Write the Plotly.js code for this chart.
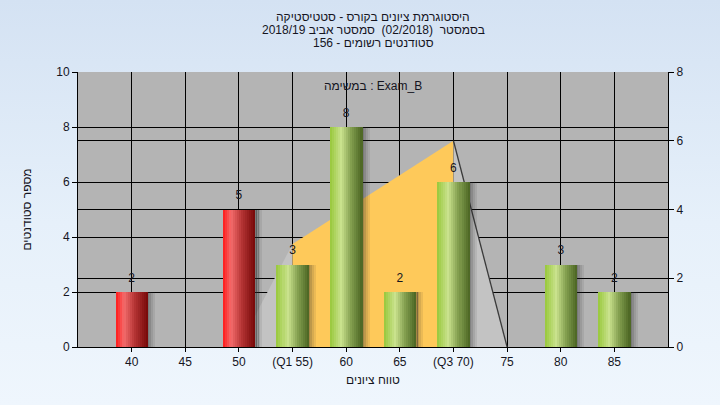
<!DOCTYPE html>
<html>
<head>
<meta charset="utf-8">
<script src="https://cdn.plot.ly/plotly-3.0.1.min.js"></script>
<style>
  html, body { margin: 0; padding: 0; }
  body { width: 720px; height: 405px; overflow: hidden;
         background: linear-gradient(to bottom, #d4e2f3 0%, #e6f0fa 55%, #eff6fd 100%); }
  #chart { width: 720px; height: 405px; }
</style>
</head>
<body>
<div id="chart"></div>
<script>
// ---- data ----
const scores = [40, 45, 50, 55, 60, 65, 70, 75, 80, 85];
const tickLabels = ['40', '45', '50', '(Q1 55)', '60', '65', '(Q3 70)', '75', '80', '85'];
const counts = [2, 0, 5, 3, 8, 2, 6, 0, 3, 2];
const curveX = [50, 55, 70, 75];
const curveY = [0, 3, 6, 0];
const q1 = 55;
const q3 = 70;
const titleLines = ['היסטוגרמת ציונים בקורס - סטטיסטיקה', 'בסמסטר  (02/2018)  סמסטר אביב 2018/19', 'סטודנטים רשומים - 156'];
const examNote = 'במשימה : Exam_B';
const xTitle = 'טווח ציונים';
const yTitle = 'מספר סטודנטים';

// ---- style helpers ----
const FONT = 'Liberation Sans, Arial, sans-serif';
const TXT = '#15151f';
const redStops = [[0, [255, 24, 24]], [0.25, [244, 108, 108]], [0.6, [178, 50, 50]], [1, [118, 8, 8]]];
const greenStops = [[0, [152, 200, 58]], [0.35, [202, 226, 142]], [0.65, [132, 160, 80]], [1, [74, 100, 34]]];
function interp(stops, t) {
  for (let i = 1; i < stops.length; i++) {
    if (t <= stops[i][0]) {
      const a = stops[i - 1], b = stops[i];
      const f = (t - a[0]) / (b[0] - a[0]);
      const c = a[1].map((v, k) => Math.round(v + (b[1][k] - v) * f));
      return 'rgb(' + c.join(',') + ')';
    }
  }
  const c = stops[stops.length - 1][1];
  return 'rgb(' + c.join(',') + ')';
}

const traces = [];
// distribution area (main subplot, right axis 0-8)
const segs = [[0, 2, '#c3c3c3', 0], [1, 3, '#fec95a', 0], [2, 4, '#c3c3c3', 1.3]];
segs.forEach(s => {
  traces.push({
    type: 'scatter', mode: 'lines', x: curveX.slice(s[0], s[1]), y: curveY.slice(s[0], s[1]),
    fill: 'tozeroy', fillcolor: s[2],
    line: { color: s[3] ? '#3a3a3a' : 'rgba(0,0,0,0)', width: s[3] || 0.1 },
    xaxis: 'x', yaxis: 'y', hoverinfo: 'skip', showlegend: false
  });
});

// bars on overlay axis (left, 0-10)
const barW = 3;          // in score units
const nSlices = 16;
const sw = barW / nSlices;
// shadow
const shadowAlpha = [0.42, 0.3, 0.18, 0.09];
shadowAlpha.forEach((a, i) => {
  traces.push({
    type: 'bar', x: scores, y: counts, xaxis: 'x', yaxis: 'y2',
    width: 0.2, offset: barW / 2 - 0.05 + i * 0.18,
    marker: { color: 'rgba(40,40,40,' + a + ')' },
    hoverinfo: 'skip', showlegend: false
  });
});
for (let i = 0; i < nSlices; i++) {
  const t = (i + 0.5) / nSlices;
  const colors = scores.map(s => s < q1 ? interp(redStops, t) : interp(greenStops, t));
  traces.push({
    type: 'bar', x: scores, y: counts, xaxis: 'x', yaxis: 'y2',
    width: sw * 1.15, offset: -barW / 2 + i * sw,
    marker: { color: colors, line: { width: 0 } },
    hoverinfo: 'skip', showlegend: false
  });
}
// value labels
traces.push({
  type: 'scatter', mode: 'markers+text', x: scores, y: counts, xaxis: 'x', yaxis: 'y2',
  marker: { size: 10, color: 'rgba(0,0,0,0)' },
  text: counts.map(c => c > 0 ? String(c) : ''), textposition: 'top center',
  textfont: { family: FONT, size: 12, color: TXT }, cliponaxis: false,
  hoverinfo: 'skip', showlegend: false
});

const titleAnn = titleLines.map((t, i) => ({
  text: t, xref: 'paper', yref: 'paper', x: 0.5, y: (347 - (17 + i * 13)) / 275,
  xanchor: 'center', yanchor: 'middle', showarrow: false,
  font: { family: FONT, size: 12, color: TXT }
}));

const layout = {
  width: 720, height: 405,
  margin: { l: 78, r: 52, t: 72, b: 58 },
  paper_bgcolor: 'rgba(0,0,0,0)',
  plot_bgcolor: '#b4b4b4',
  barmode: 'overlay',
  bargap: 0,
  font: { family: FONT, size: 12, color: TXT },
  xaxis: {
    range: [35, 90], tickvals: scores, ticktext: tickLabels, tickmode: 'array',
    showgrid: true, gridcolor: '#000', gridwidth: 1, zeroline: false,
    showline: true, linecolor: '#000', linewidth: 1,
    ticks: 'outside', ticklen: 4, tickcolor: '#000',
    tickfont: { family: FONT, size: 12, color: TXT },
    title: { text: xTitle, font: { family: FONT, size: 12, color: TXT }, standoff: 7 }
  },
  yaxis: {
    side: 'right', range: [0, 8], dtick: 2, tick0: 0,
    showgrid: true, gridcolor: '#000', gridwidth: 1, zeroline: false,
    showline: true, linecolor: '#000', linewidth: 1,
    ticks: 'outside', ticklen: 5, tickcolor: '#000',
    tickfont: { family: FONT, size: 12, color: TXT }
  },
  yaxis2: {
    overlaying: 'y', side: 'left', range: [0, 10], dtick: 2, tick0: 0,
    showgrid: true, gridcolor: '#000', gridwidth: 1, zeroline: false,
    showline: true, linecolor: '#000', linewidth: 1,
    ticks: 'outside', ticklen: 5, tickcolor: '#000',
    tickfont: { family: FONT, size: 12, color: TXT },
    title: { text: yTitle, font: { family: FONT, size: 12, color: TXT }, standoff: 22 }
  },
  annotations: titleAnn.concat([{
    text: examNote, xref: 'paper', yref: 'paper', x: 0.5, y: 0.949,
    xanchor: 'center', yanchor: 'middle', showarrow: false,
    font: { family: FONT, size: 12, color: TXT }
  }])
};

Plotly.newPlot('chart', traces, layout, { staticPlot: true, displayModeBar: false });
</script>
</body>
</html>
